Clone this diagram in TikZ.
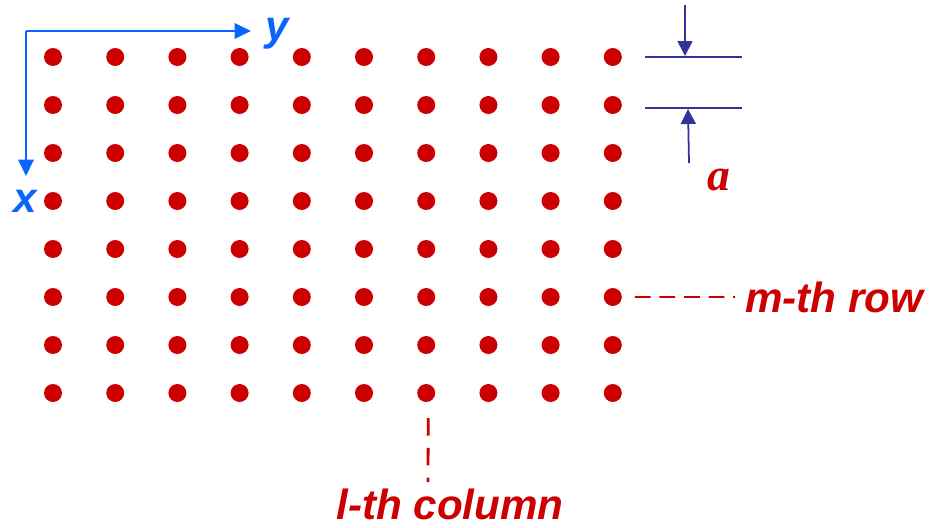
\documentclass[tikz,border=0pt]{standalone}
\usepackage{fontspec}
\setsansfont{Liberation Sans}
\setmainfont{Liberation Serif}
\usetikzlibrary{arrows.meta}

\definecolor{sitered}{HTML}{CC0000}
\definecolor{axisblue}{HTML}{0A64FF}
\definecolor{dimblue}{HTML}{33339A}

\tikzset{
  site/.style={circle, fill=sitered, inner sep=0pt, minimum size=0.36cm},
  redlabel/.style={text=sitered, inner sep=0pt,
    font=\sffamily\bfseries\itshape\fontsize{24}{24}\selectfont},
  axislabel/.style={text=axisblue, inner sep=0pt,
    font=\sffamily\bfseries\itshape\fontsize{24}{24}\selectfont},
  axisarrow/.style={axisblue, line width=1.1pt, -{Triangle[length=0.33cm, width=0.31cm]}},
  dimarrow/.style={dimblue, line width=1pt, -{Triangle[length=0.3cm, width=0.3cm]}}
}

\begin{document}
\begin{tikzpicture}[x=0.02cm, y=-0.02cm]

    \useasboundingbox (0,0) rectangle (929,527);

    % Lattice sites
    \foreach \c in {0,...,9}
      \foreach \r in {0,...,7}
        \node[site] (s\r\c) at ({53+62.2*\c},{57+48*\r}) {};

    % Axes
    \coordinate (origin) at (26,31);
    \coordinate (yend) at (251,31);
    \coordinate (xend) at (26,176);
    \draw[axisarrow] (origin) -- (yend);
    \draw[axisarrow] (origin) -- (xend);
    \node[axislabel, anchor=base] (ylabel) at (277,41) {y};
    \node[axislabel, anchor=base] (xlabel) at (25,212) {x};

    % Lattice constant
    \coordinate (top1) at (645,57);
    \coordinate (top2) at (742,57);
    \coordinate (bot1) at (645,108);
    \coordinate (bot2) at (742,108);
    \draw[dimblue, line width=1pt] (top1) -- (top2);
    \draw[dimblue, line width=1pt] (bot1) -- (bot2);
    \coordinate (downstart) at (685,5);
    \coordinate (downend) at (685,56);
    \coordinate (upstart) at (689,163);
    \coordinate (upend) at (688,109);
    \draw[dimarrow] (downstart) -- (downend);
    \draw[dimarrow] (upstart) -- (upend);
    \node[text=sitered, inner sep=0pt, anchor=base,
      font=\rmfamily\bfseries\itshape\fontsize{26}{26}\selectfont] (alabel) at (719,190) {a};

    % Row and column labels
    \node[redlabel, anchor=base west] (rowlabel) at (745,312) {m-th row};
    \node[redlabel, anchor=base] (collabel) at (450,519) {l-th column};
    \draw[sitered, line width=1pt, dash pattern=on 9pt off 5pt] (s59) ++(22,0) -- ([xshift=-0.2cm]rowlabel.west);
    \draw[sitered, line width=1.6pt, dash pattern=on 10pt off 7pt] (s76) ++(2,25) -- ([xshift=-0.44cm, yshift=0.12cm]collabel.north);

\end{tikzpicture}
\end{document}
